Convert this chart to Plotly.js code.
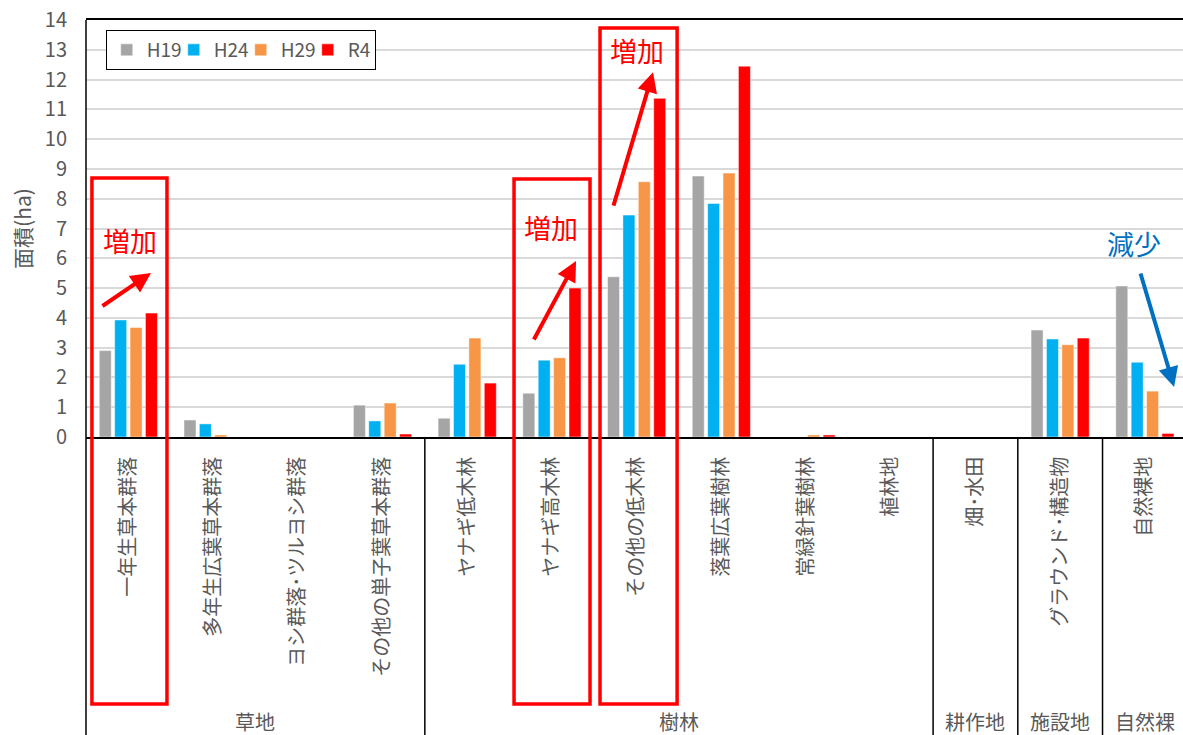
<!DOCTYPE html>
<html>
<head>
<meta charset="utf-8">
<script src="https://cdn.plot.ly/plotly-3.0.1.min.js"></script>
<style>html,body{margin:0;padding:0;background:#fff;overflow:hidden}</style>
</head>
<body>
<div id="chart" style="width:1183px;height:735px"></div>
<script>
// ---- data ----
const categories = ['一年生草本群落','多年生広葉草本群落','ヨシ群落･ツルヨシ群落','その他の単子葉草本群落',
  'ヤナギ低木林','ヤナギ高木林','その他の低木林','落葉広葉樹林','常緑針葉樹林','植林地',
  '畑･水田','グラウンド･構造物','自然裸地'];
const groupNames = ['草地','樹林','耕作地','施設地','自然裸'];
const groupSizes = [4, 6, 1, 1, 1];
const seriesNames = ['H19','H24','H29','R4'];
const H19 = [2.9, 0.57, 0, 1.07, 0.63, 1.47, 5.38, 8.76, 0, 0, 0, 3.59, 5.07];
const H24 = [3.93, 0.44, 0, 0.54, 2.44, 2.58, 7.45, 7.84, 0, 0, 0, 3.29, 2.51];
const H29 = [3.68, 0.07, 0, 1.14, 3.32, 2.66, 8.57, 8.86, 0.07, 0, 0, 3.10, 1.54];
const R4  = [4.16, 0, 0, 0.1, 1.81, 5.0, 11.37, 12.45, 0.07, 0, 0, 3.32, 0.12];
const yTicks = [0,1,2,3,4,5,6,7,8,9,10,11,12,13,14];

const colors = ['#A5A5A5','#00B0F0','#F79646','#FF0000'];
const FONT = '"Noto Sans CJK JP", "Noto Sans", sans-serif';
const TXT = '#595959';

const xIdx = categories.map((c, i) => i);
const traces = [H19, H24, H29, R4].map((vals, k) => ({
  type: 'bar', name: seriesNames[k], x: xIdx, y: vals,
  marker: {color: colors[k], line: {color: 'rgba(255,255,255,0.6)', width: 0.8}},
  hoverinfo: 'x+y'
}));

const shapes = [];
const annotations = [];
const BOTTOM = -0.72;
// left border line extending down
shapes.push({type:'line', xref:'paper', yref:'paper', x0:0, x1:0, y0:BOTTOM, y1:1,
  line:{color:'#000', width:1.5}});
// group dividers and labels
let start = 0;
groupSizes.forEach((n, g) => {
  const end = start + n;
  if (g < groupSizes.length - 1) {
    shapes.push({type:'line', xref:'x', yref:'paper', x0:end-0.5, x1:end-0.5, y0:BOTTOM, y1:0,
      line:{color:'#000', width:1.5}});
  }
  annotations.push({xref:'x', yref:'paper', x:(start + end - 1)/2, y:-0.682, text:groupNames[g],
    showarrow:false, xanchor:'center', yanchor:'middle', font:{family:FONT, size:20, color:TXT}});
  start = end;
});
// red highlight boxes
[[-0.43, 0.456, 0.621], [4.553, 5.45, 0.619], [5.568, 6.478, 0.981]].forEach(r => {
  shapes.push({type:'rect', xref:'x', yref:'paper', x0:r[0], x1:r[1], y0:-0.640, y1:r[2],
    line:{color:'#FF0000', width:3.5}, fillcolor:'rgba(0,0,0,0)'});
});
// texts
[[0.014, 6.61, '増加', '#FF0000'], [4.99, 7.05, '増加', '#FF0000'], [6.0, 12.99, '増加', '#FF0000'],
 [11.87, 6.51, '減少', '#0070C0']].forEach(t => {
  annotations.push({xref:'x', yref:'y', x:t[0], y:t[1], text:t[2], showarrow:false,
    xanchor:'center', yanchor:'middle', font:{family:FONT, size:27, color:t[3]}});
});
// arrows
[[0.267, 5.505, -50, 34, '#FF0000'], [5.285, 5.908, -43, 80, '#FF0000'],
 [6.194, 12.25, -40, 135, '#FF0000'], [12.345, 1.68, -34, -115, '#0070C0']].forEach(a => {
  annotations.push({xref:'x', yref:'y', x:a[0], y:a[1], ax:a[2], ay:a[3], text:'',
    showarrow:true, arrowhead:2, arrowsize:1, arrowwidth:4, arrowcolor:a[4], standoff:0});
});

const layout = {
  width: 1183, height: 735,
  margin: {l:86, r:0, t:20, b:298},
  paper_bgcolor:'#fff', plot_bgcolor:'#fff',
  font: {family: FONT, color: TXT, size: 19},
  barmode: 'group', bargap: 0.273, bargroupgap: 0.22,
  showlegend: true,
  legend: {orientation:'h', x:0.018, y:0.976, xanchor:'left', yanchor:'top',
    bgcolor:'#fff', bordercolor:'#000', borderwidth:1, font:{family:FONT, size:19, color:TXT},
    traceorder:'normal', entrywidth:22, entrywidthmode:'pixels', itemwidth:30},
  xaxis: {
    type:'linear', range:[-0.5, 12.45], tickmode:'array', tickvals:xIdx, ticktext:categories,
    tickangle:-90, showgrid:false, zeroline:false, showline:true, mirror:true,
    linecolor:'#000', linewidth:1.5, ticks:'', ticklabelstandoff:10,
    tickfont:{family:FONT, size:20, color:TXT}, fixedrange:true
  },
  yaxis: {
    range:[0, 14], tickmode:'array', tickvals:yTicks, showgrid:true, gridcolor:'#D9D9D9', gridwidth:1.5,
    zeroline:false, showline:false, ticks:'', ticklabelstandoff:18,
    tickfont:{family:FONT, size:20, color:TXT},
    title:{text:'面積(ha)', font:{family:FONT, size:21, color:TXT}, standoff:7}, fixedrange:true
  },
  shapes: shapes,
  annotations: annotations
};

Plotly.newPlot('chart', traces, layout, {displayModeBar:false});
</script>
</body>
</html>
